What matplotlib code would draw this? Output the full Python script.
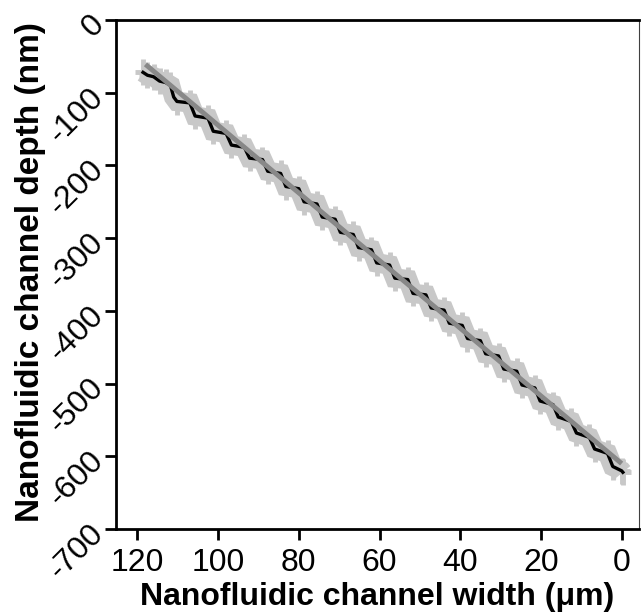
import matplotlib
matplotlib.use("Agg")
import matplotlib.pyplot as plt

# Black measured trace (width in µm, depth in nm)
trace_x = [118.6, 117.5, 116.0, 114.5, 113.0, 111.8, 111.0, 110.2,
           107.0, 105.7, 102.5, 101.2, 98.0, 96.7, 93.5, 92.2, 89.0, 87.7,
           84.5, 83.2, 80.0, 78.7, 75.5, 74.2, 71.0, 69.7, 66.5, 65.2,
           62.0, 60.7, 57.5, 56.2, 53.0, 51.7, 48.5, 47.2, 44.0, 42.7,
           39.5, 38.2, 35.0, 33.7, 30.5, 29.2, 26.0, 24.7, 21.5, 20.2,
           17.0, 15.7, 12.5, 11.2, 8.0, 6.7, 3.5, 2.2, 0.0, -0.3]
trace_y = [-72, -76, -78, -84, -86, -90, -106, -112,
           -114, -132, -135, -153, -156, -172, -175, -190, -192, -208,
           -211, -229, -232, -250, -253, -271, -274, -292, -295, -313,
           -316, -334, -337, -355, -357, -376, -378, -396, -399, -417,
           -420, -438, -441, -459, -462, -480, -483, -502, -506, -524,
           -529, -546, -552, -568, -574, -590, -596, -614, -620, -622]

# Linear fit (grey line)
fit_x = [118.0, 0.0]
fit_y = [-61, -610]

x_ticks = [120, 100, 80, 60, 40, 20, 0]
y_ticks = [0, -100, -200, -300, -400, -500, -600, -700]

fig = plt.figure(figsize=(6.41, 6.15), dpi=100)
ax = fig.add_axes([116/641, 86/615, 523/641, 509/615])

font = "Liberation Sans"

# grey envelope (error band)
ax.plot(trace_x, trace_y, color="#c8c8c8", lw=14, solid_joinstyle="miter",
        solid_capstyle="butt", zorder=1)
ax.errorbar(trace_x, trace_y, yerr=18, xerr=2.0, fmt="none", ecolor="#c8c8c8",
            elinewidth=3.5, zorder=1)
ax.plot(trace_x, trace_y, color="black", lw=2.4, zorder=2)
ax.plot(fit_x, fit_y, color="#888888", lw=3.5, solid_capstyle="butt", zorder=3)

ax.set_xlim(125.3, -4.3)
ax.set_ylim(-700, 0)
ax.set_xticks(x_ticks)
ax.set_yticks(y_ticks)
ax.set_xticklabels([str(v) for v in x_ticks], fontsize=23, family=font)
ax.set_yticklabels([str(v) for v in y_ticks], fontsize=23, family=font,
                   rotation=45, ha="right", va="center", rotation_mode="anchor")

for s in ["left", "bottom", "top"]:
    ax.spines[s].set_linewidth(2.0)
    ax.spines[s].set_color("black")
ax.spines["right"].set_linewidth(0.8)
ax.spines["right"].set_color("#404040")

ax.tick_params(axis="both", direction="out", length=8, width=2.0, color="black")
ax.tick_params(axis="x", pad=6)
ax.tick_params(axis="y", pad=4)

ax.set_xlabel("Nanofluidic channel width (μm)", fontsize=23, fontweight="bold",
              family=font, va="bottom", ha="center")
ax.set_ylabel("Nanofluidic channel depth (nm)", fontsize=24, fontweight="bold",
              family=font, va="center", ha="center")
ax.xaxis.set_label_coords(0.50, -0.163)
ax.yaxis.set_label_coords(-0.164, 0.505)

fig.savefig("out.png", dpi=100)
